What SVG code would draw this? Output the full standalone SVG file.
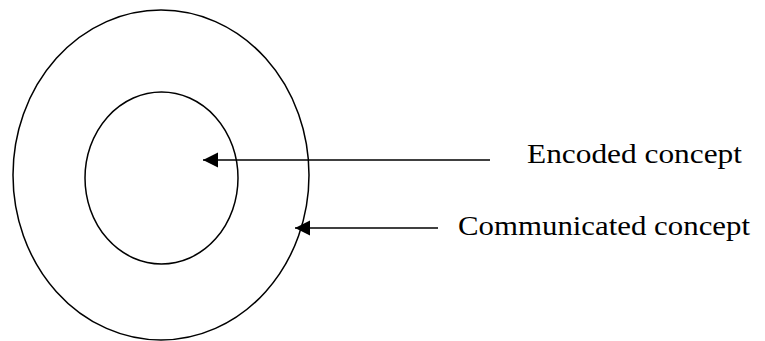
<svg xmlns="http://www.w3.org/2000/svg" width="765" height="341" viewBox="0 0 765 341">
<style>
.shape{fill:none;stroke:#000;stroke-width:1.5}
.conn{stroke:#000;stroke-width:1.5;fill:none}
.lbl{font-family:"Liberation Serif","Times New Roman",serif;font-size:27px;fill:#000}
</style>
<defs>
<marker id="ah" markerWidth="16" markerHeight="16" refX="15" refY="7.5" orient="auto" markerUnits="userSpaceOnUse" viewBox="0 0 16 16">
<path d="M0,0 L15,7.5 L0,15 Z" fill="#000"/>
</marker>
</defs>
<g id="outer"><ellipse class="shape" cx="161" cy="175" rx="148" ry="165"/></g>
<g id="inner"><ellipse class="shape" cx="161.5" cy="178" rx="76.5" ry="86"/></g>
<g id="connectors">
<line class="conn" x1="490" y1="160" x2="203" y2="160" marker-end="url(#ah)"/>
<line class="conn" x1="438" y1="228" x2="295" y2="228" marker-end="url(#ah)"/>
</g>
<g id="label-encoded"><text class="lbl" x="527" y="163" textLength="215" lengthAdjust="spacingAndGlyphs">Encoded concept</text></g>
<g id="label-communicated"><text class="lbl" x="458" y="235" textLength="292" lengthAdjust="spacingAndGlyphs">Communicated concept</text></g>
</svg>
